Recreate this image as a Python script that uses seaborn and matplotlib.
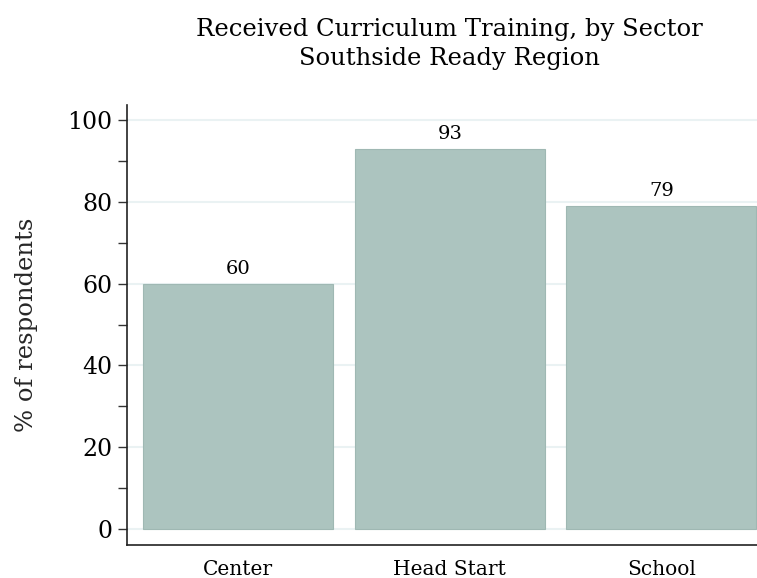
import matplotlib.pyplot as plt
from matplotlib.ticker import MultipleLocator
import pandas as pd
import seaborn as sns

sectors = ['Center', 'Head Start', 'School']
pct_trained = [60, 93, 79]

df = pd.DataFrame({'sector': sectors, 'pct': pct_trained})

sns.set_style('white')
plt.rcParams['font.family'] = ['DejaVu Serif']
plt.rcParams['text.color'] = 'black'
plt.rcParams['xtick.color'] = 'black'
plt.rcParams['ytick.color'] = 'black'

fig = plt.figure(figsize=(7.57, 5.78), dpi=100)
# axes runs a bit past the right edge, like the cropped original
ax = fig.add_axes([127 / 757, 1 - 545 / 578, (772.5 - 127) / 757, (545 - 105) / 578])

sns.barplot(data=df, x='sector', y='pct', color='#acc4bf', saturation=1,
            width=0.898, edgecolor='#9fb8b3', linewidth=0.8, ax=ax, zorder=3)

ax.bar_label(ax.containers[0], fmt='%d', padding=4, fontsize=14)

ax.set_xlim(-0.525, 2.525)
ax.set_ylim(-3.9, 103.7)
ax.yaxis.set_major_locator(MultipleLocator(20))
ax.yaxis.set_minor_locator(MultipleLocator(10))
ax.grid(axis='y', which='major', color='#eaf2f3', linewidth=1.5, zorder=0)
ax.set_axisbelow(True)

ax.tick_params(axis='y', which='both', left=True, length=6.5, width=1, color='#333333',
               labelsize=17, pad=4)
ax.tick_params(axis='x', bottom=False, labelsize=14.5, pad=7)

ax.set_xlabel('')
ax.set_ylabel('% of respondents', fontsize=17.5, labelpad=21)

for side in ['top', 'right']:
    ax.spines[side].set_visible(False)
for side in ['left', 'bottom']:
    ax.spines[side].set_color('#222222')
    ax.spines[side].set_linewidth(1.2)

ax.set_title('Received Curriculum Training, by Sector\nSouthside Ready Region',
             fontsize=17.5, pad=29, linespacing=1.3)

fig.savefig('out.png', dpi=100)
